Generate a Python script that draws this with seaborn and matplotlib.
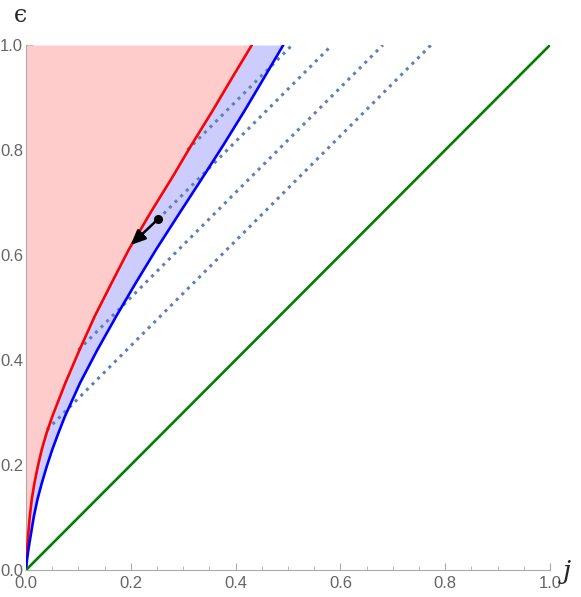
import numpy as np
import pandas as pd
import seaborn as sns
import matplotlib.pyplot as plt

# values (j on x, epsilon on y)
red_eps = [0.0, 0.01, 0.02, 0.035, 0.051, 0.075, 0.102, 0.135, 0.165, 0.197, 0.229, 0.26,
           0.292, 0.356, 0.419, 0.483, 0.546, 0.610, 0.683, 0.746, 0.810, 0.873, 0.937, 1.0]
red_j = [0.0, 0.0003, 0.0009, 0.0018, 0.003, 0.0048, 0.0072, 0.0110, 0.016, 0.0225, 0.030,
         0.039, 0.050, 0.075, 0.102, 0.131, 0.163, 0.196, 0.239, 0.278, 0.316, 0.355, 0.393,
         0.431]

blue_eps = [0.0, 0.01, 0.02, 0.035, 0.051, 0.075, 0.102, 0.135, 0.165, 0.197, 0.229, 0.26,
            0.292, 0.356, 0.419, 0.483, 0.546, 0.610, 0.683, 0.746, 0.810, 0.873, 0.937, 1.0]
blue_j = [0.0, 0.0008, 0.0020, 0.0040, 0.0065, 0.0105, 0.015, 0.022, 0.030, 0.0395, 0.050,
          0.0615, 0.074, 0.103, 0.136, 0.172, 0.209, 0.248, 0.295, 0.336, 0.377, 0.416,
          0.454, 0.491]

# dotted lines: start (on red curve / dot) and end (top edge)
dot_j0 = [0.040, 0.100, 0.252, 0.308]
dot_e0 = [0.267, 0.419, 0.668, 0.800]
dot_j1 = [0.773, 0.681, 0.584, 0.508]
dot_e1 = [1.0, 1.0, 1.0, 1.0]

green_j = [0.0, 1.0]
green_eps = [0.0, 1.0]

point_j, point_eps = 0.2515, 0.668
arrow_j, arrow_eps = 0.1998, 0.619

ticks = [0.0, 0.2, 0.4, 0.6, 0.8, 1.0]
tick_labels = ["0.0", "0.2", "0.4", "0.6", "0.8", "1.0"]

sns.set_style("ticks")
plt.rcParams['font.family'] = ['Liberation Sans', 'DejaVu Sans']

fig = plt.figure(figsize=(5.81, 5.97), dpi=100)
ax = fig.add_axes([26 / 581, 27 / 597, 524 / 581, 525 / 597])

red_df = pd.DataFrame({"j": red_j, "eps": red_eps})
blue_df = pd.DataFrame({"j": blue_j, "eps": blue_eps})

# shaded regions
ax.fill_betweenx(red_df["eps"], 0, red_df["j"], color="#FFCCCC", lw=0, zorder=1)
ax.fill_betweenx(red_df["eps"], red_df["j"], blue_df["j"], color="#CCCCFF", lw=0, zorder=1)

# dotted lines
for a, b, c, d in zip(dot_j0, dot_e0, dot_j1, dot_e1):
    ax.plot([a, c], [b, d], color="#5E81B5", lw=2.2, linestyle=(0, (1.0, 1.6)),
            dash_capstyle="butt", zorder=2)

sns.lineplot(data=red_df, x="j", y="eps", sort=False, estimator=None, color="#FF0000",
             lw=1.9, ax=ax, zorder=3)
sns.lineplot(data=blue_df, x="j", y="eps", sort=False, estimator=None, color="#0000FF",
             lw=1.9, ax=ax, zorder=3)
sns.lineplot(x=green_j, y=green_eps, color="#008000", lw=1.9, ax=ax, zorder=3)

# point and arrow
ax.plot([point_j], [point_eps], "o", color="black", ms=5.5, zorder=5)
ax.annotate("", xy=(arrow_j, arrow_eps), xytext=(point_j, point_eps),
            arrowprops=dict(arrowstyle="-|>,head_length=0.9,head_width=0.4",
                            color="black", lw=1.8, shrinkA=0, shrinkB=0), zorder=5)

ax.set_xlim(0, 1)
ax.set_ylim(0, 1)
ax.set_xlabel("")
ax.set_ylabel("")
ax.set_xticks(ticks)
ax.set_xticklabels(tick_labels)
ax.set_yticks(ticks)
ax.set_yticklabels(tick_labels)
ax.set_xticks(np.arange(0, 1.001, 0.05), minor=True)
ax.set_yticks(np.arange(0, 1.001, 0.05), minor=True)
ax.tick_params(which="major", direction="in", length=5, width=0.8, color="#AAAAAA",
               labelcolor="#666666", labelsize=12)
ax.tick_params(axis="x", which="major", pad=4)
ax.tick_params(axis="y", which="major", pad=2)
ax.tick_params(which="minor", direction="in", length=3, width=0.6, color="#AAAAAA")

for side in ["top", "right"]:
    ax.spines[side].set_visible(False)
for side in ["left", "bottom"]:
    ax.spines[side].set_color("#AAAAAA")
    ax.spines[side].set_linewidth(0.8)

fig.text(20 / 581, 1 - 16 / 597, "ϵ", fontsize=17, family="DejaVu Serif",
         ha="center", va="center")
fig.text(567 / 581, 1 - 572 / 597, "j", fontsize=19, family="DejaVu Serif", style="italic",
         ha="center", va="center")

fig.savefig("out.png", dpi=100)
